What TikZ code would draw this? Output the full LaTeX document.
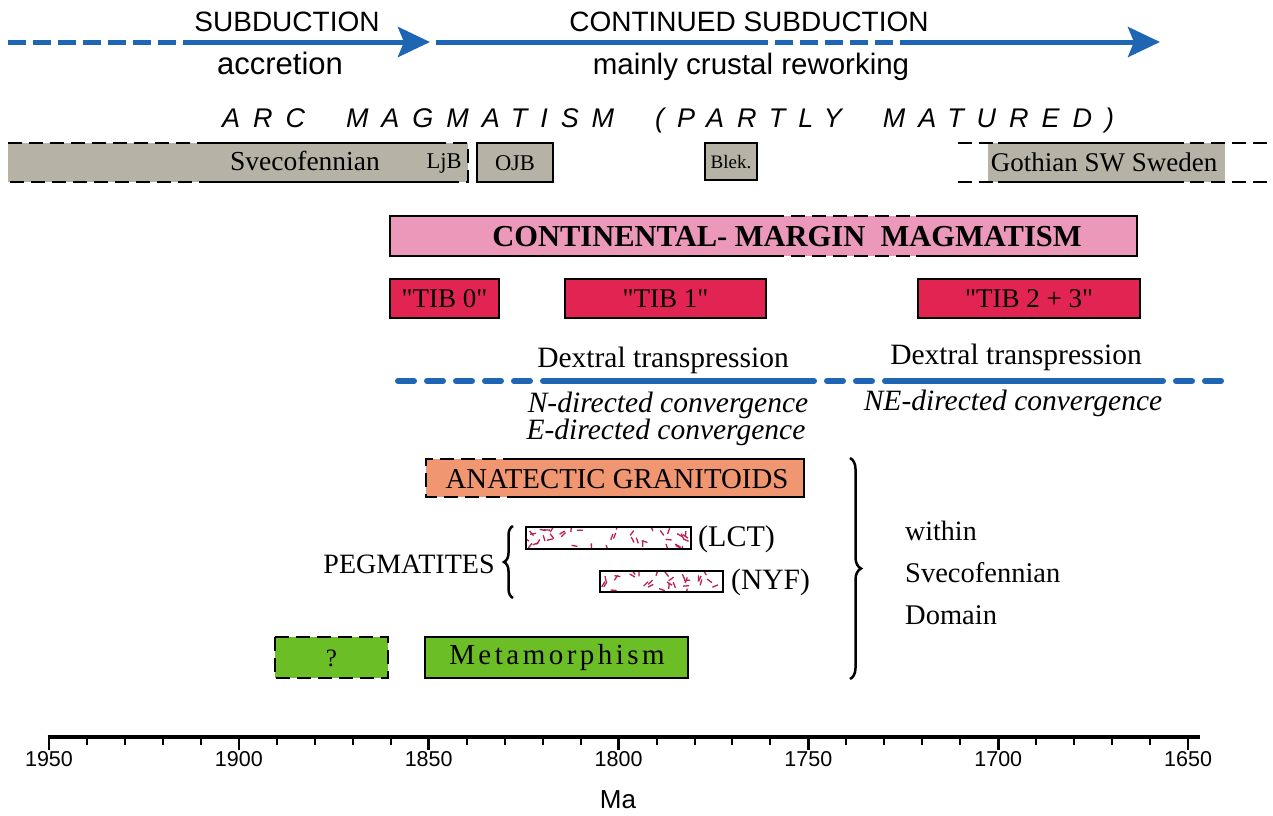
\documentclass[tikz,border=0pt]{standalone}
\usepackage{fontspec}
\setmainfont{Liberation Serif}
\setsansfont{Liberation Sans}
\newfontfamily\tibfont{Liberation Serif}[Ligatures=TeXOff]
\usetikzlibrary{arrows.meta}
\usetikzlibrary{decorations.pathreplacing}

\definecolor{arrowblue}{RGB}{30,102,180}
\definecolor{terranegray}{RGB}{182,179,166}
\definecolor{marginpink}{RGB}{236,152,186}
\definecolor{tibred}{RGB}{226,36,82}
\definecolor{anatecticsalmon}{RGB}{240,150,112}
\definecolor{metagreen}{RGB}{108,190,38}
\definecolor{pegred}{RGB}{190,30,80}

\newcommand{\fsz}[1]{\fontsize{#1}{#1}\selectfont}

\tikzset{
  blueline/.style={arrowblue, line width=5pt},
  bluedash/.style={blueline, dash pattern=on 18pt off 7pt},
  boxedge/.style={line width=2.5pt, black},
  boxdash/.style={boxedge, dash pattern=on 14pt off 7pt},
  sanslabel/.style={font=\sffamily\fsz{28}, inner sep=0pt},
  seriflabel/.style={font=\fsz{28}, inner sep=0pt},
  italiclabel/.style={font=\itshape\fsz{29.5}, inner sep=0pt},
  tiblabel/.style={font=\tibfont\fsz{27}, inner sep=0pt},
}

\begin{document}
\begin{tikzpicture}[x=1pt,y=-1pt]
        \useasboundingbox (0,0) rectangle (1273,815);
        \newcommand{\figtoparrowy}{42}
        \newcommand{\figgraytop}{143}
        \newcommand{\figgraybot}{182}
        \newcommand{\figmargintop}{216}
        \newcommand{\figmarginbot}{256}
        \newcommand{\figtibtop}{279}
        \newcommand{\figtibbot}{318}
        \newcommand{\figdextraly}{381}
        \newcommand{\figaxisy}{737}
        % plate setting arrows
        \coordinate (subA) at (8,\figtoparrowy);
        \coordinate (subB) at (188,\figtoparrowy);
        \coordinate (subC) at (430,\figtoparrowy);
        \coordinate (consA) at (436,\figtoparrowy);
        \coordinate (consB) at (750,\figtoparrowy);
        \coordinate (consC) at (905,\figtoparrowy);
        \coordinate (consD) at (1160,\figtoparrowy);
        \draw[bluedash] (subA) -- (subB);
        \draw[blueline,-{Stealth[length=32pt,width=30pt,inset=6pt]}] (subB) -- (subC);
        \draw[blueline] (consA) -- (consB);
        \draw[bluedash] (consB) -- (consC);
        \draw[blueline,-{Stealth[length=32pt,width=30pt,inset=6pt]}] (consC) -- (consD);
        \node[sanslabel] (subduction) at (287,22) {SUBDUCTION};
        \node[sanslabel, font=\sffamily\fsz{31}] (accretion) at (280,63) {accretion};
        \node[sanslabel] (contsub) at (749,22) {CONTINUED SUBDUCTION};
        \node[sanslabel, font=\sffamily\fsz{29.5}] (reworking) at (751,67) {mainly crustal reworking};
        \node[font=\sffamily\itshape\fsz{27}\addfontfeature{LetterSpace=48}, inner sep=0pt, anchor=west] (arcmag) at (222,121) {ARC\ \ MAGMATISM\ \ (PARTLY\ \ MATURED)};
        % terranes
        \fill[terranegray] (8,\figgraytop) rectangle (468,\figgraybot);
        \draw[boxdash] (8,\figgraytop) -- (200,\figgraytop);
        \draw[boxedge] (200,\figgraytop) -- (432,\figgraytop);
        \draw[boxdash] (432,\figgraytop) -- (468,\figgraytop) -- (468,\figgraybot) -- (447,\figgraybot);
        \draw[boxedge] (447,\figgraybot) -- (213,\figgraybot);
        \draw[boxdash] (213,\figgraybot) -- (8,\figgraybot);
        \node[seriflabel, font=\fsz{27.5}] (svecofennian) at (305,161) {Svecofennian};
        \node[seriflabel, font=\fsz{22.5}] (ljb) at (444,163) {LjB};
        \draw[boxedge, fill=terranegray] (477,\figgraytop) rectangle (553,\figgraybot);
        \node[seriflabel, font=\fsz{22.5}] (ojb) at (515,163) {OJB};
        \draw[boxedge, fill=terranegray] (705,\figgraytop) rectangle (757,180);
        \node[seriflabel, font=\fsz{19}] (blek) at (731,162) {Blek.};
        \fill[terranegray] (988,\figgraytop) rectangle (1225,\figgraybot);
        \foreach \yy in {\figgraytop,\figgraybot} {
          \draw[boxdash] (958,\yy) -- (998,\yy);
          \draw[boxedge] (998,\yy) -- (1184,\yy);
          \draw[boxdash] (1190,\yy) -- (1273,\yy);
        }
        \node[seriflabel, font=\fsz{27}] (gothian) at (1104,162) {Gothian SW Sweden};
        % continental margin
        \fill[marginpink] (390,\figmargintop) rectangle (1137,\figmarginbot);
        \draw[boxedge] (770,\figmargintop) -- (390,\figmargintop) -- (390,\figmarginbot) -- (770,\figmarginbot);
        \draw[boxedge] (916,\figmargintop) -- (1137,\figmargintop) -- (1137,\figmarginbot) -- (916,\figmarginbot);
        \draw[boxdash] (770,\figmargintop) -- (916,\figmargintop);
        \draw[boxdash] (770,\figmarginbot) -- (916,\figmarginbot);
        \node[seriflabel, font=\bfseries\fsz{30.5}] (margin) at (787,237) {CONTINENTAL-\ MARGIN\ \ MAGMATISM};
        % TIB suites
        \draw[boxedge, fill=tibred] (390,\figtibtop) rectangle (499,\figtibbot);
        \node[tiblabel] (tibzero) at (444.5,299) {"TIB 0"};
        \draw[boxedge, fill=tibred] (565,\figtibtop) rectangle (766,\figtibbot);
        \node[tiblabel] (tibone) at (665.5,299) {"TIB 1"};
        \draw[boxedge, fill=tibred] (918,\figtibtop) rectangle (1140,\figtibbot);
        \node[tiblabel] (tibtwo) at (1029,299) {"TIB 2 + 3"};
        % transpression
        \coordinate (dexA) at (398,\figdextraly);
        \coordinate (dexB) at (545,\figdextraly);
        \coordinate (dexC) at (798,\figdextraly);
        \coordinate (dexD) at (893,\figdextraly);
        \coordinate (dexE) at (1147,\figdextraly);
        \coordinate (dexF) at (1222,\figdextraly);
        \draw[arrowblue, line width=6pt, line cap=round, dash pattern=on 16pt off 13pt] (dexA) -- (dexB);
        \draw[arrowblue, line width=6pt, line cap=round] (dexB) -- (dexC);
        \draw[arrowblue, line width=6pt, line cap=round, dash pattern=on 16pt off 13pt] (dexC) -- (dexD);
        \draw[arrowblue, line width=6pt, line cap=round] (dexD) -- (dexE);
        \draw[arrowblue, line width=6pt, line cap=round, dash pattern=on 16pt off 13pt] (dexE) -- (dexF);
        \node[seriflabel, font=\fsz{29.5}] (dextralA) at (663,360) {Dextral transpression};
        \node[seriflabel, font=\fsz{29.5}] (dextralB) at (1016,357) {Dextral transpression};
        \node[italiclabel] (ndir) at (668,405) {N-directed convergence};
        \node[italiclabel] (edir) at (666,432) {E-directed convergence};
        \node[italiclabel] (nedir) at (1013,403) {NE-directed convergence};
        % anatectic granitoids
        \fill[anatecticsalmon] (426,459) rectangle (804,497);
        \draw[boxedge] (517,459) -- (804,459) -- (804,497) -- (517,497);
        \draw[boxdash] (517,459) -- (426,459) -- (426,497) -- (517,497);
        \node[seriflabel, font=\fsz{28.8}] (anatectic) at (617,479) {ANATECTIC GRANITOIDS};
        % pegmatites
        \node[seriflabel, font=\fsz{28}] (pegmatites) at (409,564) {PEGMATITES};
        \draw[line width=2.5pt, decorate, decoration={brace, amplitude=9pt}] (513,598) -- (513,526);
        \begin{scope}
          \clip (526,527) rectangle (691,549);
          \fill[white] (526,527) rectangle (691,549);
          \pgfmathsetseed{17}
          \foreach \k in {1,...,40} {
            \pgfmathsetmacro{\px}{526+165*rnd}
            \pgfmathsetmacro{\py}{529+18*rnd}
            \pgfmathsetmacro{\pa}{360*rnd}
            \draw[pegred, line width=1.3pt] (\px,\py) -- ++(\pa:6);
          }
        \end{scope}
        \draw[boxedge] (526,527) rectangle (691,549);
        \node[seriflabel, font=\fsz{30}, anchor=west] (lct) at (698,539) {(LCT)};
        \begin{scope}
          \clip (600,571) rectangle (723,592);
          \fill[white] (600,571) rectangle (723,592);
          \pgfmathsetseed{5}
          \foreach \k in {1,...,30} {
            \pgfmathsetmacro{\px}{600+123*rnd}
            \pgfmathsetmacro{\py}{573+17*rnd}
            \pgfmathsetmacro{\pa}{360*rnd}
            \draw[pegred, line width=1.3pt] (\px,\py) -- ++(\pa:6);
          }
        \end{scope}
        \draw[boxedge] (600,571) rectangle (723,592);
        \node[seriflabel, font=\fsz{29.5}, anchor=west] (nyf) at (731,582) {(NYF)};
        % domain brace
        \draw[line width=2.5pt, decorate, decoration={brace, amplitude=11pt}] (850,458) -- (850,679);
        \node[seriflabel, anchor=west] (within) at (905,531) {within};
        \node[seriflabel, font=\fsz{28.5}, anchor=west] (svecodomain) at (905,573) {Svecofennian};
        \node[seriflabel, font=\fsz{28.5}, anchor=west] (domain) at (905,615) {Domain};
        % metamorphism
        \draw[boxdash, fill=metagreen] (275,637) rectangle (388,678);
        \node[seriflabel, font=\fsz{25}] (query) at (331.5,658) {?};
        \draw[boxedge, fill=metagreen] (425,637) rectangle (688,678);
        \node[seriflabel, font=\fsz{29}\addfontfeature{LetterSpace=12}] (metamorphism) at (557,658) {Metamorphism};
        % time axis
        \draw[line width=3.5pt] (47.5,\figaxisy) -- (1200,\figaxisy);
        \foreach \yr in {1950,1940,...,1650} {
          \draw[line width=2pt] ({49+(1950-\yr)*3.797},\figaxisy) -- ++(0,8);
        }
        \foreach \yr in {1950,1900,...,1650} {
          \draw[line width=2.5pt] ({49+(1950-\yr)*3.797},\figaxisy) -- ++(0,13);
          \node[sanslabel, font=\sffamily\fsz{21.5}] (tick\yr) at ({49+(1950-\yr)*3.797},759) {\yr};
        }
        \node[sanslabel, font=\sffamily\fsz{26}] (ma) at (618,800) {Ma};
\end{tikzpicture}
\end{document}
